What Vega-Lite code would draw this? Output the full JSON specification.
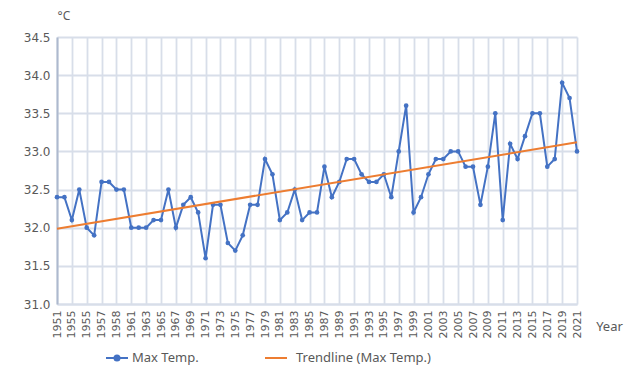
{
  "$schema": "https://vega.github.io/schema/vega-lite/v6.json",
  "autosize": "none",
  "width": 520,
  "height": 267,
  "padding": {"left": 57, "top": 37, "right": 61, "bottom": 81},
  "background": "white",
  "config": {
    "view": {"stroke": null},
    "axis": {"labelColor": "#595959", "titleColor": "#595959", "ticks": false, "gridColor": "#D8DEE9", "gridWidth": 1.8}
  },
  "data": {
    "values": [
      {"year": 1951, "temp": 32.4, "series": "Max Temp."},
      {"year": 1952, "temp": 32.4, "series": "Max Temp."},
      {"year": 1953, "temp": 32.1, "series": "Max Temp."},
      {"year": 1954, "temp": 32.5, "series": "Max Temp."},
      {"year": 1955, "temp": 32.0, "series": "Max Temp."},
      {"year": 1956, "temp": 31.9, "series": "Max Temp."},
      {"year": 1957, "temp": 32.6, "series": "Max Temp."},
      {"year": 1958, "temp": 32.6, "series": "Max Temp."},
      {"year": 1959, "temp": 32.5, "series": "Max Temp."},
      {"year": 1960, "temp": 32.5, "series": "Max Temp."},
      {"year": 1961, "temp": 32.0, "series": "Max Temp."},
      {"year": 1962, "temp": 32.0, "series": "Max Temp."},
      {"year": 1963, "temp": 32.0, "series": "Max Temp."},
      {"year": 1964, "temp": 32.1, "series": "Max Temp."},
      {"year": 1965, "temp": 32.1, "series": "Max Temp."},
      {"year": 1966, "temp": 32.5, "series": "Max Temp."},
      {"year": 1967, "temp": 32.0, "series": "Max Temp."},
      {"year": 1968, "temp": 32.3, "series": "Max Temp."},
      {"year": 1969, "temp": 32.4, "series": "Max Temp."},
      {"year": 1970, "temp": 32.2, "series": "Max Temp."},
      {"year": 1971, "temp": 31.6, "series": "Max Temp."},
      {"year": 1972, "temp": 32.3, "series": "Max Temp."},
      {"year": 1973, "temp": 32.3, "series": "Max Temp."},
      {"year": 1974, "temp": 31.8, "series": "Max Temp."},
      {"year": 1975, "temp": 31.7, "series": "Max Temp."},
      {"year": 1976, "temp": 31.9, "series": "Max Temp."},
      {"year": 1977, "temp": 32.3, "series": "Max Temp."},
      {"year": 1978, "temp": 32.3, "series": "Max Temp."},
      {"year": 1979, "temp": 32.9, "series": "Max Temp."},
      {"year": 1980, "temp": 32.7, "series": "Max Temp."},
      {"year": 1981, "temp": 32.1, "series": "Max Temp."},
      {"year": 1982, "temp": 32.2, "series": "Max Temp."},
      {"year": 1983, "temp": 32.5, "series": "Max Temp."},
      {"year": 1984, "temp": 32.1, "series": "Max Temp."},
      {"year": 1985, "temp": 32.2, "series": "Max Temp."},
      {"year": 1986, "temp": 32.2, "series": "Max Temp."},
      {"year": 1987, "temp": 32.8, "series": "Max Temp."},
      {"year": 1988, "temp": 32.4, "series": "Max Temp."},
      {"year": 1989, "temp": 32.6, "series": "Max Temp."},
      {"year": 1990, "temp": 32.9, "series": "Max Temp."},
      {"year": 1991, "temp": 32.9, "series": "Max Temp."},
      {"year": 1992, "temp": 32.7, "series": "Max Temp."},
      {"year": 1993, "temp": 32.6, "series": "Max Temp."},
      {"year": 1994, "temp": 32.6, "series": "Max Temp."},
      {"year": 1995, "temp": 32.7, "series": "Max Temp."},
      {"year": 1996, "temp": 32.4, "series": "Max Temp."},
      {"year": 1997, "temp": 33.0, "series": "Max Temp."},
      {"year": 1998, "temp": 33.6, "series": "Max Temp."},
      {"year": 1999, "temp": 32.2, "series": "Max Temp."},
      {"year": 2000, "temp": 32.4, "series": "Max Temp."},
      {"year": 2001, "temp": 32.7, "series": "Max Temp."},
      {"year": 2002, "temp": 32.9, "series": "Max Temp."},
      {"year": 2003, "temp": 32.9, "series": "Max Temp."},
      {"year": 2004, "temp": 33.0, "series": "Max Temp."},
      {"year": 2005, "temp": 33.0, "series": "Max Temp."},
      {"year": 2006, "temp": 32.8, "series": "Max Temp."},
      {"year": 2007, "temp": 32.8, "series": "Max Temp."},
      {"year": 2008, "temp": 32.3, "series": "Max Temp."},
      {"year": 2009, "temp": 32.8, "series": "Max Temp."},
      {"year": 2010, "temp": 33.5, "series": "Max Temp."},
      {"year": 2011, "temp": 32.1, "series": "Max Temp."},
      {"year": 2012, "temp": 33.1, "series": "Max Temp."},
      {"year": 2013, "temp": 32.9, "series": "Max Temp."},
      {"year": 2014, "temp": 33.2, "series": "Max Temp."},
      {"year": 2015, "temp": 33.5, "series": "Max Temp."},
      {"year": 2016, "temp": 33.5, "series": "Max Temp."},
      {"year": 2017, "temp": 32.8, "series": "Max Temp."},
      {"year": 2018, "temp": 32.9, "series": "Max Temp."},
      {"year": 2019, "temp": 33.9, "series": "Max Temp."},
      {"year": 2020, "temp": 33.7, "series": "Max Temp."},
      {"year": 2021, "temp": 33.0, "series": "Max Temp."}
    ]
  },
  "encoding": {
    "x": {
      "field": "year", "type": "quantitative",
      "scale": {"domain": [1951, 2021], "nice": false, "zero": false},
      "axis": {
        "values": [1951,1953,1955,1957,1959,1961,1963,1965,1967,1969,1971,1973,1975,1977,1979,1981,1983,1985,1987,1989,1991,1993,1995,1997,1999,2001,2003,2005,2007,2009,2011,2013,2015,2017,2019,2021],
        "format": "d",
        "labelExpr": "datum.value == 1953 ? '1955' : datum.value == 1959 ? '1958' : datum.label",
        "labelAngle": 270, "labelAlign": "right", "labelBaseline": "middle",
        "labelFont": "DejaVu Sans", "labelFontSize": 11, "labelPadding": 6,
        "domainColor": "#D8DEE9", "domainWidth": 1.8,
        "title": "Year", "titleFont": "Noto Sans", "titleFontSize": 13, "titleFontWeight": "normal",
        "titleAnchor": "start", "titleAlign": "center", "titleBaseline": "middle",
        "titleX": 552, "titleY": 22
      }
    },
    "y": {
      "field": "temp", "type": "quantitative",
      "scale": {"domain": [31, 34.5], "nice": false, "zero": false},
      "axis": {
        "values": [31, 31.5, 32, 32.5, 33, 33.5, 34, 34.5],
        "format": ".1f",
        "labelFont": "DejaVu Sans", "labelFontSize": 12, "labelPadding": 7,
        "domainColor": "#AEB9CE", "domainWidth": 2,
        "title": "°C", "titleFont": "Noto Sans", "titleFontSize": 12, "titleFontWeight": "normal",
        "titleAngle": 0, "titleAlign": "left", "titleBaseline": "middle",
        "titleX": 0, "titleY": -22
      }
    }
  },
  "layer": [
    {
      "mark": {"type": "line", "strokeWidth": 2},
      "encoding": {
        "color": {
          "field": "series", "type": "nominal",
          "scale": {"domain": ["Max Temp.", "Trendline (Max Temp.)"], "range": ["#4472C4", "#ED7D31"]},
          "legend": {
            "title": null, "orient": "none", "direction": "horizontal",
            "legendX": 48, "legendY": 309,
            "symbolSize": 484, "symbolStrokeWidth": 2, "columnPadding": 62,
            "labelFont": "Noto Sans", "labelFontSize": 13, "labelColor": "#595959", "labelOffset": 3,
            "encode": {
              "symbols": {
                "update": {
                  "shape": {"signal": "datum.value == 'Max Temp.' ? 'M-1,0H1M-0.23,0A0.23,0.23,0,1,0,0.23,0A0.23,0.23,0,1,0,-0.23,0Z' : 'M-1,0H1'"},
                  "fill": {"signal": "datum.value == 'Max Temp.' ? '#4472C4' : 'transparent'"},
                  "stroke": {"signal": "datum.value == 'Max Temp.' ? '#4472C4' : '#ED7D31'"},
                  "strokeWidth": {"value": 2}
                }
              },
              "labels": {
                "update": {
                  "dx": {"signal": "datum.value == 'Max Temp.' ? 0 : 5"}
                }
              }
            }
          }
        }
      }
    },
    {
      "mark": {"type": "point", "filled": true, "opacity": 1, "size": 22, "color": "#4472C4"}
    },
    {
      "transform": [{"regression": "temp", "on": "year"}],
      "mark": {"type": "line", "strokeWidth": 2, "color": "#ED7D31"},
      "encoding": {"color": {"datum": "Trendline (Max Temp.)"}}
    }
  ]
}
